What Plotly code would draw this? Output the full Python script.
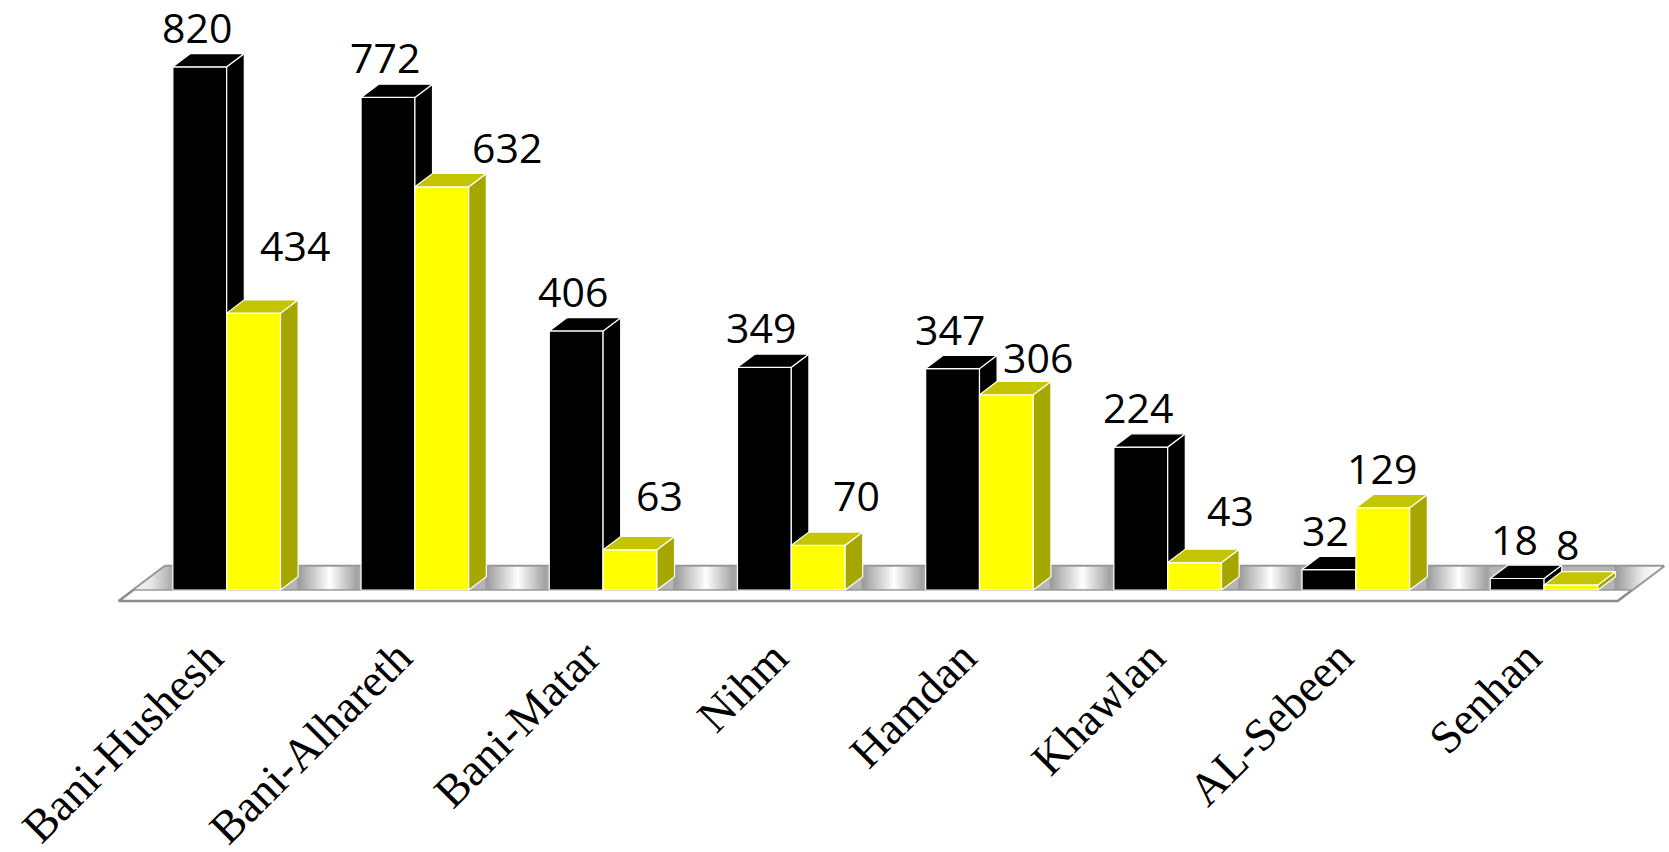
import plotly.graph_objects as go

# ---- data -------------------------------------------------------------
categories = ["Bani-Hushesh", "Bani-Alhareth", "Bani-Matar", "Nihm",
              "Hamdan", "Khawlan", "AL-Sebeen", "Senhan"]
black_values = [820, 772, 406, 349, 347, 224, 32, 18]
yellow_values = [434, 632, 63, 70, 306, 43, 129, 8]

# ---- page / scale geometry ----------------------------------------------
W, H = 1669, 852
CAT_PX = 188.2        # px between neighbouring categories
CAT0_PX = 226.7       # px position of the first category centre
VAL_PX = 0.638        # px per unit of value
BASE_PX = 590         # px position of the zero line (front edge of floor)

X_RANGE = [-CAT0_PX / CAT_PX, (W - CAT0_PX) / CAT_PX]
Y_RANGE = [-(H - BASE_PX) / VAL_PX, BASE_PX / VAL_PX]

BAR_W = 0.286                  # bar width, category units
DEPTH_X = 17.6 / CAT_PX        # oblique depth offset (x)
DEPTH_Y = 13.3 / VAL_PX        # oblique depth offset (y)
SLANT = 17.6 / 13.3            # px of x per px of y along the depth axis


def px_x(px):
    return (px - CAT0_PX) / CAT_PX


def px_y(py):
    return (BASE_PX - py) / VAL_PX


# ---- faces of the 3-D columns ------------------------------------------
def faces(values, left_offset):
    fx, fy, sx, sy, tx, ty = [], [], [], [], [], []
    for i, v in enumerate(values):
        xl = i + left_offset
        xr = xl + BAR_W
        fx += [xl, xr, xr, xl, xl, None]
        fy += [0, 0, v, v, 0, None]
        sx += [xr, xr + DEPTH_X, xr + DEPTH_X, xr, xr, None]
        sy += [0, DEPTH_Y, v + DEPTH_Y, v, 0, None]
        tx += [xl, xl + DEPTH_X, xr + DEPTH_X, xr, xl, None]
        ty += [v, v + DEPTH_Y, v + DEPTH_Y, v, v, None]
    return (fx, fy), (sx, sy), (tx, ty)


def poly(xy, color, name, lw=1.2, lc="white"):
    return go.Scatter(x=xy[0], y=xy[1], mode="lines", fill="toself",
                      fillcolor=color, line=dict(color=lc, width=lw),
                      name=name, showlegend=False, hoverinfo="skip")


fig = go.Figure()

# ---- floor -------------------------------------------------------------
FLOOR_BACK_PX, FLOOR_BOTTOM_PX = 566, 601
FLOOR_LEFT_PX, FLOOR_RIGHT_PX = 165, 1664
back_y, bottom_y = px_y(FLOOR_BACK_PX), 0
lb = FLOOR_LEFT_PX
lf = lb - (BASE_PX - FLOOR_BACK_PX) * SLANT
lbot = lf - (FLOOR_BOTTOM_PX - BASE_PX) * SLANT
rb = FLOOR_RIGHT_PX
rf = rb - (BASE_PX - FLOOR_BACK_PX) * SLANT
rbot = rf - (FLOOR_BOTTOM_PX - BASE_PX) * SLANT

fig.add_trace(go.Scatter(
    x=[px_x(lb), px_x(rb), px_x(rbot), px_x(lbot), px_x(lb)],
    y=[back_y, back_y, px_y(FLOOR_BOTTOM_PX), px_y(FLOOR_BOTTOM_PX), back_y],
    mode="lines", fill="toself", fillcolor="white",
    line=dict(color="#8c8c8c", width=2.5), showlegend=False, hoverinfo="skip"))

# shading on the top face of the floor, darker next to each column pair
stops_px = [(lbot, "#ffffff"), (173.3 - 22, "#e6e6e6"), (173.3, "#a8a8a8")]
bar_px = BAR_W * CAT_PX
for i in range(len(categories)):
    bl = CAT0_PX - bar_px + i * CAT_PX
    se = bl + 2 * bar_px + 17.6
    stops_px.append((se - 2, "#b5b5b5"))
    stops_px.append((se, "#9a9a9a"))
    if i < len(categories) - 1:
        nb = bl + CAT_PX
        gap = nb - se
        stops_px.append((se + 0.5 * gap, "#ffffff"))
        stops_px.append((nb - 4, "#a2a2a2"))
        stops_px.append((nb + 2, "#b5b5b5"))
stops_px.append((rb - 20, "#f0f0f0"))
stops_px.append((rb, "#ffffff"))
span = rb - lbot
colorscale = [[(p - lbot) / span, c] for p, c in stops_px]

fig.add_trace(go.Scatter(
    x=[px_x(lb), px_x(rb), px_x(rf), px_x(lf), px_x(lb)],
    y=[back_y, back_y, bottom_y, bottom_y, back_y],
    mode="lines", fill="toself",
    fillgradient=dict(type="horizontal", colorscale=colorscale,
                      start=px_x(lbot), stop=px_x(rb)),
    line=dict(color="#9a9a9a", width=1.5), showlegend=False, hoverinfo="skip"))

# ---- columns -------------------------------------------------------------
bf, bs, bt = faces(black_values, -BAR_W)
yf, ys, yt = faces(yellow_values, 0.0)
fig.add_trace(poly(bf, "#000000", "black front"))
fig.add_trace(poly(bs, "#000000", "black side"))
fig.add_trace(poly(bt, "#000000", "black top"))
fig.add_trace(poly(yf, "#ffff00", "yellow front"))
fig.add_trace(poly(ys, "#a6a600", "yellow side"))
fig.add_trace(poly(yt, "#c4c400", "yellow top"))

# ---- value labels --------------------------------------------------------
VALUE_FONT = dict(family="Open Sans, Lato, sans-serif", size=41, color="black")
# (x shift, rise) in px for the yellow labels
yellow_label_shift = [(41, 68), (65, 40), (29, 55), (38, 50),
                      (32, 38), (36, 53), (-1, 40), (-4, 41)]
annotations = []
for i, v in enumerate(black_values):
    annotations.append(dict(x=i - BAR_W / 2, y=v, text=str(v), showarrow=False,
                            xanchor="center", yanchor="middle",
                            xshift=-3, yshift=40, font=VALUE_FONT))
for i, v in enumerate(yellow_values):
    dx, rise = yellow_label_shift[i]
    annotations.append(dict(x=i + BAR_W / 2, y=v, text=str(v), showarrow=False,
                            xanchor="center", yanchor="middle",
                            xshift=dx, yshift=rise, font=VALUE_FONT))

# ---- category labels -----------------------------------------------------
CAT_FONT = dict(family="Liberation Serif, Times New Roman, serif", size=46,
                color="black")
for i, name in enumerate(categories):
    annotations.append(dict(x=i, y=px_y(630), text=name, showarrow=False,
                            textangle=-45, xanchor="right", yanchor="top",
                            xshift=8, borderpad=0, font=CAT_FONT))

fig.update_layout(
    width=W, height=H, autosize=False,
    margin=dict(l=0, r=0, t=0, b=0, pad=0),
    paper_bgcolor="white", plot_bgcolor="white",
    xaxis=dict(range=X_RANGE, visible=False, fixedrange=True),
    yaxis=dict(range=Y_RANGE, visible=False, fixedrange=True),
    annotations=annotations,
    showlegend=False,
)

fig.write_html("out.html")
